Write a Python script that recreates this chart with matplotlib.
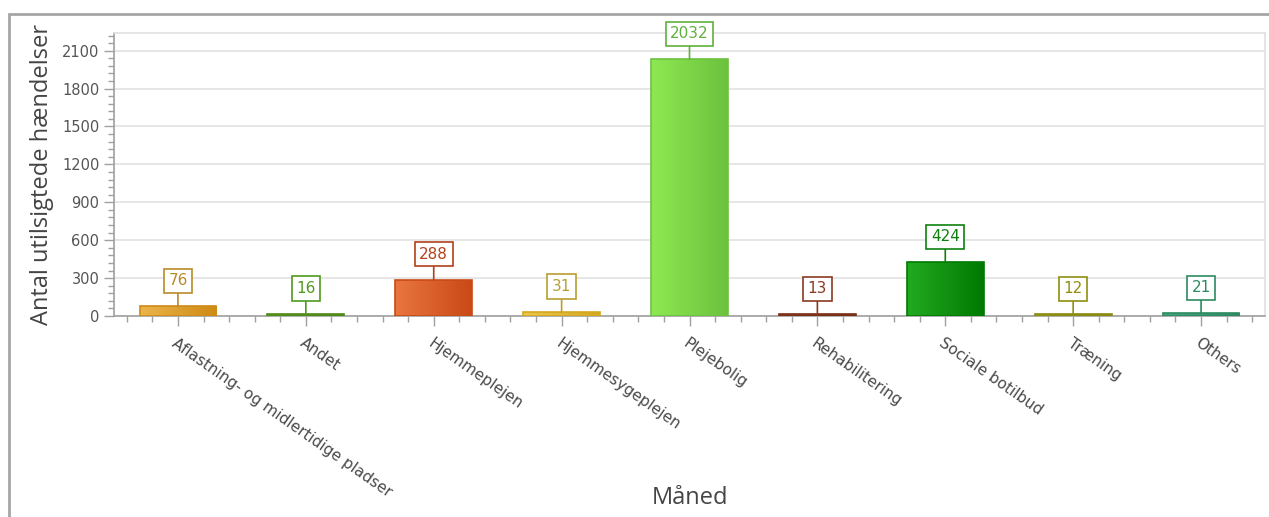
import numpy as np
import matplotlib
matplotlib.use("Agg")
import matplotlib.pyplot as plt
from matplotlib.colors import LinearSegmentedColormap
from matplotlib.patches import Rectangle
from matplotlib.ticker import MultipleLocator

# -----------------------------
# DATA
# -----------------------------

categories = [
    "Aflastning- og midlertidige pladser",
    "Andet",
    "Hjemmeplejen",
    "Hjemmesygeplejen",
    "Plejebolig",
    "Rehabilitering",
    "Sociale botilbud",
    "Træning",
    "Others",
]

counts = [76, 16, 288, 31, 2032, 13, 424, 12, 21]

# light (left side) and dark (right side) of each bar's gradient
light_colors = ["#ebb54a", "#6aa62a", "#e9763f", "#ebc94a", "#8ee852",
                "#9a4a2a", "#22aa22", "#aaaa30", "#44a87e"]
dark_colors = ["#cf8a16", "#4e8a16", "#c94a16", "#d4a820", "#6cc23e",
               "#7a2e14", "#007a00", "#8a8a10", "#2e8a62"]
label_colors = ["#b98a2a", "#4f9a1f", "#b3401a", "#b8a030", "#5fb03e",
                "#8a3a22", "#0e800e", "#8f8f12", "#2e8a62"]

# -----------------------------
# FIGURE
# -----------------------------

fig = plt.figure(figsize=(12.69, 5.17), dpi=100)

# outer frame
fig.patches.append(Rectangle((9 / 1269, -0.05), 1.2, 1 - 14 / 517 + 0.05,
                             transform=fig.transFigure, fill=False,
                             edgecolor="#a6a6a6", linewidth=2))

ax = fig.add_axes([114 / 1269, 1 - 316 / 517, 1151 / 1269, 283 / 517])

x = np.arange(len(categories))
bars = ax.bar(x, counts, width=0.6, color="none", zorder=3)

# gradient fill for each bar
for i, b in enumerate(bars):
    cmap = LinearSegmentedColormap.from_list("g%d" % i, [light_colors[i], dark_colors[i]])
    grad = np.linspace(0, 1, 64).reshape(1, -1)
    im = ax.imshow(grad, cmap=cmap, aspect="auto", zorder=3,
                   extent=[b.get_x(), b.get_x() + b.get_width(), 0, b.get_height()])
    im.set_clip_path(b)
    ax.add_patch(Rectangle((b.get_x(), 0), b.get_width(), b.get_height(),
                           fill=False, edgecolor=dark_colors[i], linewidth=1.2, zorder=4))

ax.set_xlim(-0.5, len(categories) - 0.5)
ax.set_ylim(0, 2240)

# value labels in boxes on a short stem
for i, v in enumerate(counts):
    ax.annotate(str(v), xy=(i, v), xytext=(0, 13), textcoords="offset points",
                ha="center", va="bottom", fontsize=11, color=label_colors[i],
                family="DejaVu Sans", zorder=5,
                bbox=dict(boxstyle="square,pad=0.3", facecolor="white",
                          edgecolor=label_colors[i], linewidth=1.2),
                arrowprops=dict(arrowstyle="-", color=label_colors[i],
                                linewidth=1.2, shrinkA=0, shrinkB=0))

# -----------------------------
# AXES STYLE
# -----------------------------

ax.yaxis.set_major_locator(MultipleLocator(300))
ax.yaxis.set_minor_locator(MultipleLocator(60))
ax.xaxis.set_minor_locator(MultipleLocator(0.2))
ax.set_xticks(x)
ax.grid(axis="y", which="major", color="#e2e2e2", linewidth=1.2, zorder=0)
ax.set_axisbelow(True)

for side in ["top", "right"]:
    ax.spines[side].set_color("#e0e0e0")
    ax.spines[side].set_linewidth(1.2)
for side in ["left", "bottom"]:
    ax.spines[side].set_color("#a0a0a0")
    ax.spines[side].set_linewidth(1.2)

ax.tick_params(axis="both", which="major", length=7, width=1, color="#a0a0a0",
               labelsize=10.5, labelcolor="#555555")
ax.tick_params(axis="x", which="major", pad=7)
ax.tick_params(axis="both", which="minor", length=4, width=1, color="#a0a0a0")

ax.set_xticklabels(categories, rotation=-35, ha="left", va="top",
                   rotation_mode="anchor", color="#4a4a4a", fontsize=11)

ax.set_ylabel("Antal utilsigtede hændelser", fontsize=17, color="#444444",
              family="Open Sans", labelpad=6)
ax.set_xlabel("Måned", fontsize=17, color="#444444", family="Open Sans")
ax.xaxis.set_label_coords(0.5, -0.6)

fig.savefig("out.png", dpi=100)
